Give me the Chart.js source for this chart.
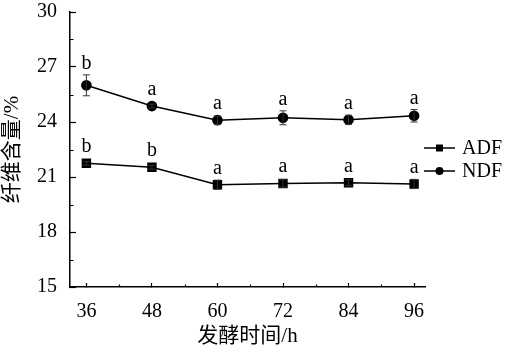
<!DOCTYPE html>
<html>
<head>
<meta charset="utf-8">
<script src="https://cdn.jsdelivr.net/npm/chart.js@4.4.1/dist/chart.umd.min.js"></script>
<style>
  html, body { margin: 0; padding: 0; background: #fff; }
  #wrap { width: 507px; height: 353px; }
</style>
</head>
<body>
<div id="wrap"><canvas id="grafico"></canvas></div>
<script>
// ── Dados ───────────────────────────────────────────────────────────────────
const horas = [36, 48, 60, 72, 84, 96]
const adf = [21.75, 21.53, 20.58, 20.65, 20.69, 20.62]
const adfErro = [0.1, 0.1, 0.25, 0.2, 0.15, 0.25]
const adfLetras = ['b', 'b', 'a', 'a', 'a', 'a']
const ndf = [26.0, 24.87, 24.1, 24.23, 24.12, 24.34]
const ndfErro = [0.57, 0.1, 0.23, 0.38, 0.25, 0.34]
const ndfLetras = ['b', 'a', 'a', 'a', 'a', 'a']
const xTicks = [36, 48, 60, 72, 84, 96]
const xMinor = [42, 54, 66, 78, 90]
const yTicks = [15, 18, 21, 24, 27, 30]
const yMinor = [16.5, 19.5, 22.5, 25.5, 28.5]

const SERIF = "'Liberation Serif', 'Times New Roman', serif"
const TITULO = "'Liberation Serif', 'Noto Sans CJK SC', serif"

const pontos = (ys) => horas.map((h, i) => ({ x: h, y: ys[i] }))

// ── Plugins: barras de erro, letras, ticks menores, legenda ────────────────

const extras = {
  id: 'extras',
  afterDatasetsDraw(chart) {
    const { ctx, scales: { x, y } } = chart
    ctx.save()
    chart.data.datasets.forEach((ds) => {
      ds.data.forEach((p, i) => {
        const px = x.getPixelForValue(p.x)
        const yTop = y.getPixelForValue(p.y + ds.erro[i])
        const yBot = y.getPixelForValue(p.y - ds.erro[i])
        const yc = y.getPixelForValue(p.y)
        ctx.strokeStyle = '#333'
        ctx.lineWidth = 1
        ctx.beginPath()
        ctx.moveTo(px, yTop); ctx.lineTo(px, yBot)
        ctx.moveTo(px - 3.5, yTop); ctx.lineTo(px + 3.5, yTop)
        ctx.moveTo(px - 3.5, yBot); ctx.lineTo(px + 3.5, yBot)
        ctx.stroke()
        // letra de significância
        ctx.fillStyle = '#000'
        ctx.font = `20px ${SERIF}`
        ctx.textAlign = 'center'
        ctx.textBaseline = 'alphabetic'
        ctx.fillText(ds.letras[i], px, Math.min(yTop, yc - 5) - 6)
      })
    })
    ctx.restore()
  },
  afterDraw(chart) {
    const { ctx, scales: { x, y }, chartArea } = chart
    ctx.save()
    ctx.strokeStyle = '#000'
    ctx.lineWidth = 1.2
    ctx.beginPath()
    xMinor.forEach((v) => {
      const px = Math.round(x.getPixelForValue(v)) + 0.5
      ctx.moveTo(px, chartArea.bottom); ctx.lineTo(px, chartArea.bottom - 2.5)
    })
    yMinor.forEach((v) => {
      const py = Math.round(y.getPixelForValue(v)) + 0.5
      ctx.moveTo(chartArea.left, py); ctx.lineTo(chartArea.left + 3.5, py)
    })
    ctx.stroke()

    // legenda
    const lx = 424, ly = [148, 171]
    chart.data.datasets.forEach((ds, i) => {
      ctx.strokeStyle = '#000'
      ctx.lineWidth = 1.5
      ctx.beginPath()
      ctx.moveTo(lx, ly[i]); ctx.lineTo(lx + 31, ly[i])
      ctx.stroke()
      ctx.fillStyle = '#000'
      if (ds.pointStyle === 'rect') {
        ctx.fillRect(lx + 15.5 - 3.5, ly[i] - 3.5, 7, 7)
      } else {
        ctx.beginPath()
        ctx.arc(lx + 15.5, ly[i], 4, 0, Math.PI * 2)
        ctx.fill()
      }
      ctx.font = `20px ${SERIF}`
      ctx.textAlign = 'left'
      ctx.textBaseline = 'middle'
      ctx.fillText(ds.label, lx + 38, ly[i] + 1)
    })
    ctx.restore()
  },
}

// ── Gráfico ────────────────────────────────────────────────────────────────

const chart = new Chart(document.getElementById('grafico'), {
  type: 'line',
  data: {
    datasets: [
      {
        label: 'ADF',
        data: pontos(adf),
        erro: adfErro,
        letras: adfLetras,
        borderColor: '#000',
        backgroundColor: '#000',
        borderWidth: 1.5,
        pointStyle: 'rect',
        pointRadius: 5.6,
        tension: 0,
      },
      {
        label: 'NDF',
        data: pontos(ndf),
        erro: ndfErro,
        letras: ndfLetras,
        borderColor: '#000',
        backgroundColor: '#000',
        borderWidth: 1.5,
        pointStyle: 'circle',
        pointRadius: 4.6,
        tension: 0,
      },
    ],
  },
  options: {
    responsive: true,
    maintainAspectRatio: false,
    animation: false,
    layout: { padding: { left: 0, right: 82, top: 12, bottom: 0 } },
    plugins: { legend: { display: false }, tooltip: { enabled: false } },
    scales: {
      x: {
        type: 'linear',
        min: 33,
        max: 98,
        afterBuildTicks: (s) => { s.ticks = xTicks.map((v) => ({ value: v })) },
        afterFit: (s) => {
          s.height = 66
          s.paddingLeft = 0
          s.paddingRight = 0
        },
        grid: { drawOnChartArea: false, tickLength: -4, color: '#000', tickWidth: 1.2 },
        border: { color: '#000', width: 1.5 },
        ticks: { padding: 17, maxRotation: 0, color: '#000', font: { family: SERIF, size: 20 } },
        title: {
          display: true,
          text: '发酵时间/h',
          color: '#000',
          font: { family: TITULO, size: 21, lineHeight: 1.2 },
          padding: { top: 0, bottom: 3.5 },
        },
      },
      y: {
        min: 15,
        max: 30,
        afterBuildTicks: (s) => { s.ticks = yTicks.map((v) => ({ value: v })) },
        afterFit: (s) => {
          s.width = 70
          s.paddingTop = 0
          s.paddingBottom = 0
        },
        grid: { drawOnChartArea: false, tickLength: -6, color: '#000', tickWidth: 1.2 },
        border: { color: '#000', width: 1.5 },
        ticks: { padding: 19, color: '#000', font: { family: SERIF, size: 20 } },
        title: {
          display: true,
          text: '纤维含量/%',
          color: '#000',
          font: { family: TITULO, size: 21, lineHeight: 1 },
          padding: { top: 1.5, bottom: 0 },
        },
      },
    },
  },
  plugins: [extras],
})
</script>
</body>
</html>
